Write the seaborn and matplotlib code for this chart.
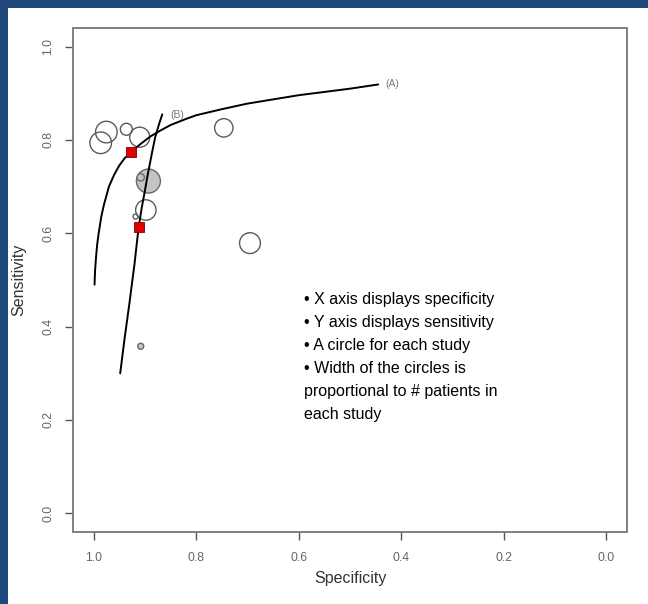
import numpy as np
import pandas as pd
import matplotlib
matplotlib.use("Agg")
import matplotlib.pyplot as plt
import seaborn as sns
from matplotlib.patches import Rectangle

# ---- data ----
study_spec = [0.986, 0.975, 0.936, 0.910, 0.746, 0.898, 0.918, 0.695, 0.893, 0.908, 0.908]
study_sens = [0.794, 0.817, 0.823, 0.806, 0.826, 0.650, 0.636, 0.579, 0.712, 0.720, 0.358]
study_patients = [108, 108, 60, 100, 92, 102, 25, 104, 120, 37, 30]
study_filled = [False, False, False, False, False, False, False, False, True, True, True]

summary_spec = [0.927, 0.912]
summary_sens = [0.774, 0.613]

curveA_spec = [0.998, 0.997, 0.995, 0.993, 0.990, 0.985, 0.980, 0.970, 0.960, 0.950,
               0.940, 0.927, 0.910, 0.890, 0.870, 0.850, 0.820, 0.800, 0.750, 0.700,
               0.650, 0.600, 0.550, 0.500, 0.445]
curveA_sens = [0.490, 0.520, 0.550, 0.575, 0.600, 0.635, 0.660, 0.700, 0.725, 0.745,
               0.760, 0.774, 0.790, 0.807, 0.820, 0.832, 0.845, 0.853, 0.866, 0.878,
               0.887, 0.896, 0.903, 0.910, 0.919]

curveB_spec = [0.948, 0.944, 0.940, 0.935, 0.930, 0.925, 0.920, 0.916, 0.912, 0.906,
               0.900, 0.895, 0.890, 0.885, 0.880, 0.876, 0.872, 0.866]
curveB_sens = [0.300, 0.335, 0.370, 0.410, 0.450, 0.493, 0.535, 0.575, 0.613, 0.655,
               0.690, 0.722, 0.750, 0.778, 0.805, 0.820, 0.835, 0.855]

x_ticks = [1.0, 0.8, 0.6, 0.4, 0.2, 0.0]
y_ticks = [0.0, 0.2, 0.4, 0.6, 0.8, 1.0]

note_lines = [
    "\u2022 X axis displays specificity",
    "\u2022 Y axis displays sensitivity",
    "\u2022 A circle for each study",
    "\u2022 Width of the circles is",
    "proportional to # patients in",
    "each study",
]

# ---- figure ----
sns.set_theme(style="white")
plt.rcParams['font.family'] = ['Liberation Sans', 'DejaVu Sans']

fig = plt.figure(figsize=(6.48, 6.04), dpi=100, facecolor="white")
blue = "#1F497D"
fig.patches.append(Rectangle((0, 1 - 8 / 604), 1, 8 / 604, transform=fig.transFigure,
                             facecolor=blue, edgecolor="none", zorder=0))
fig.patches.append(Rectangle((0, 0), 7.5 / 648, 1, transform=fig.transFigure,
                             facecolor=blue, edgecolor="none", zorder=0))

ax = fig.add_axes([73 / 648, 1 - 532 / 604, 554 / 648, 504 / 604])
ax.set_facecolor("white")

df = pd.DataFrame({"spec": study_spec, "sens": study_sens,
                   "patients": study_patients, "filled": study_filled})
# width of circle proportional to patients -> marker area ~ patients^2
df["area"] = (np.array(study_patients) / 10.0 * 1.44) ** 2

open_df = df[~df["filled"]]
fill_df = df[df["filled"]]

ax.scatter(open_df["spec"], open_df["sens"], s=open_df["area"], facecolors="none",
           edgecolors="#5a5a5a", linewidths=1.0, zorder=2)
sns.scatterplot(data=fill_df, x="spec", y="sens", ax=ax, s=fill_df["area"].values,
                color="#c4c4c4", edgecolor="#6a6a6a", linewidth=1.0, zorder=2, legend=False)

sns.lineplot(x=curveA_spec, y=curveA_sens, sort=False, ax=ax, color="black", lw=1.4, zorder=3)
sns.lineplot(x=curveB_spec, y=curveB_sens, sort=False, ax=ax, color="black", lw=1.4, zorder=3)

sns.scatterplot(x=summary_spec, y=summary_sens, ax=ax, marker="s", s=62, color="#e00000",
                edgecolor="#7a0000", linewidth=0.6, zorder=4, legend=False)

ax.text(0.432, 0.919, "(A)", color="#777777", fontsize=7.5, ha="left", va="center")
ax.text(0.850, 0.853, "(B)", color="#777777", fontsize=7.5, ha="left", va="center")

ax.text(0.590, 0.475, "\n".join(note_lines), fontsize=11.5, color="black",
        ha="left", va="top", linespacing=1.67)

ax.set_xlim(1.04, -0.04)
ax.set_ylim(-0.04, 1.04)
ax.set_xticks(x_ticks)
ax.set_yticks(y_ticks)
ax.set_xticklabels([f"{v:.1f}" for v in x_ticks])
ax.set_yticklabels([f"{v:.1f}" for v in y_ticks], rotation=90, va="center")
ax.tick_params(axis="both", which="both", direction="out", length=5.5, width=1.0,
               color="#555555", labelcolor="#666666", labelsize=8.8, bottom=True, left=True)
ax.tick_params(axis="x", pad=9)
ax.tick_params(axis="y", pad=8)

for sp in ax.spines.values():
    sp.set_color("#808080")
    sp.set_linewidth(1.4)

ax.set_xlabel("Specificity", fontsize=11.5, color="#333333", va="center")
ax.set_ylabel("Sensitivity", fontsize=11.5, color="#333333", va="center")
ax.xaxis.set_label_coords((350 - 73) / 554, (532 - 578) / 504)
ax.yaxis.set_label_coords((19 - 73) / 554, 0.5)

fig.savefig("out.png", dpi=100, facecolor="white")
